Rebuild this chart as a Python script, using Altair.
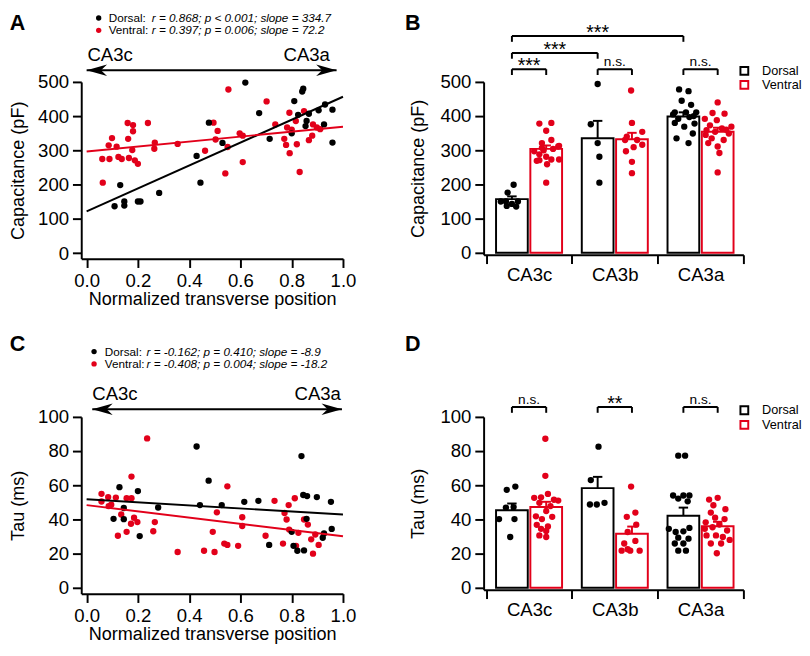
import altair as alt
import pandas as pd

FONT = "Liberation Sans"
BLACK = "#000000"
RED = "#e2001a"
GROUPS = ["Dorsal", "Ventral"]
CATEGORIES = ["CA3c", "CA3b", "CA3a"]
POS_ENDS = ["CA3c", "CA3a"]

# ---------------- Panel A: capacitance vs normalized transverse position ----------------
A_DORSAL_X = [0.619, 0.109, 0.131, 0.147, 0.147, 0.200, 0.210, 0.283, 0.429, 0.444, 0.477, 0.530, 0.673, 0.714,
              0.810, 0.800, 0.825, 0.841, 0.845, 0.867, 0.858, 0.854, 0.905, 0.930, 0.926, 0.959, 0.959]
A_DORSAL_Y = [498, 137, 199, 151, 139, 151, 151, 176, 284, 206, 381, 322, 409, 334,
              444, 350, 404, 472, 480, 407, 386, 371, 417, 434, 376, 419, 323]
A_VENTRAL_X = [0.063, 0.061, 0.089, 0.086, 0.099, 0.117, 0.124, 0.137, 0.160, 0.181, 0.181, 0.162, 0.178, 0.165,
               0.188, 0.200, 0.239, 0.266, 0.264, 0.355, 0.462, 0.495, 0.511, 0.503, 0.550, 0.541, 0.553, 0.597,
               0.609, 0.609, 0.702, 0.736, 0.771, 0.778, 0.791, 0.782, 0.800, 0.792, 0.820, 0.831, 0.816, 0.848,
               0.867, 0.883, 0.880, 0.898, 0.911]
A_VENTRAL_Y = [206, 275, 275, 315, 336, 311, 281, 275, 380, 374, 356, 334, 301, 278,
               271, 261, 380, 323, 305, 319, 299, 381, 357, 332, 310, 233, 478, 350,
               343, 266, 443, 376, 334, 316, 410, 367, 361, 292, 318, 237, 386, 415,
               330, 376, 343, 367, 362]
A_INTERCEPT = [122, 297]
A_SLOPE = [334.7, 72.2]
A_STATS = ["r = 0.868; p < 0.001; slope = 334.7", "r = 0.397; p = 0.006; slope = 72.2"]

# ---------------- Panel C: tau vs normalized transverse position ----------------
C_DORSAL_X = [0.128, 0.145, 0.105, 0.145, 0.200, 0.207, 0.279, 0.429, 0.442, 0.476, 0.527, 0.615, 0.670, 0.712,
              0.800, 0.807, 0.822, 0.838, 0.845, 0.860, 0.898, 0.858, 0.848, 0.926, 0.921, 0.953, 0.956]
C_DORSAL_Y = [58.9, 46.7, 40.4, 40.2, 56.6, 30.3, 47.0, 82.7, 48.4, 62.7, 48.4, 50.3, 50.9, 25.1,
              32.8, 24.6, 21.7, 77.1, 54.3, 53.7, 53.1, 40.4, 21.9, 31.8, 29.3, 50.3, 34.5]
C_VENTRAL_X = [0.058, 0.058, 0.084, 0.086, 0.114, 0.096, 0.122, 0.135, 0.156, 0.156, 0.175, 0.175, 0.173, 0.185,
               0.198, 0.236, 0.266, 0.260, 0.355, 0.458, 0.492, 0.499, 0.508, 0.537, 0.549, 0.549, 0.591, 0.607,
               0.607, 0.698, 0.733, 0.766, 0.772, 0.780, 0.788, 0.790, 0.812, 0.817, 0.826, 0.848, 0.863, 0.876,
               0.883, 0.892, 0.905]
C_VENTRAL_Y = [55.0, 50.5, 53.1, 47.8, 52.8, 48.6, 30.5, 42.9, 52.4, 32.8, 65.1, 52.4, 37.5, 41.0,
               38.5, 87.4, 38.5, 33.1, 21.0, 21.7, 32.8, 21.0, 44.2, 25.9, 25.1, 59.4, 24.6, 41.3,
               36.2, 30.5, 50.9, 25.9, 43.8, 40.0, 48.4, 34.1, 52.4, 24.6, 32.2, 40.0, 37.0, 28.4,
               20.0, 31.2, 25.1]
C_INTERCEPT = [51.8, 48.4]
C_SLOPE = [-8.9, -18.2]
C_STATS = ["r = -0.162; p = 0.410; slope = -8.9", "r = -0.408; p = 0.004; slope = -18.2"]

# ---------------- Panel B: capacitance by region ----------------
B_MEAN_D = [157, 335, 399]
B_SEM_D = [8, 51, 12]
B_MEAN_V = [304, 332, 354]
B_SEM_V = [10, 19, 12]
B_PTS_D = [[199, 176, 150, 150, 143, 150, 135, 137],
           [494, 376, 321, 281, 205],
           [478, 473, 445, 433, 411, 411, 411, 392, 397, 378, 380, 369, 349, 335, 321, 405, 400]]
B_JIT_D = [[0.02, -0.05, -0.13, -0.07, 0.0, 0.07, 0.05, -0.06],
           [0.0, -0.08, 0.0, 0.02, 0.02],
           [-0.05, 0.06, -0.02, 0.09, -0.1, 0.03, 0.15, -0.06, 0.07, 0.13, -0.1, 0.01, 0.11, -0.08, 0.06, -0.12, 0.12]]
B_PTS_V = [[378, 380, 357, 330, 321, 313, 311, 304, 297, 288, 281, 273, 273, 271, 269, 259, 205, 300, 307],
           [475, 380, 354, 340, 330, 330, 316, 309, 297, 266, 233],
           [440, 409, 407, 392, 388, 369, 373, 364, 359, 349, 354, 335, 330, 321, 311, 292, 235, 345, 360]]
B_JIT_V = [[-0.08, 0.06, 0.0, 0.06, -0.05, 0.15, 0.14, 0.08, -0.14, -0.08, 0.0, 0.06, 0.15, -0.08, -0.11, 0.01, 0.0, -0.03, -0.05],
           [-0.01, 0.0, 0.12, -0.06, -0.08, 0.06, 0.12, 0.02, -0.07, 0.0, 0.0],
           [0.0, -0.06, 0.08, -0.15, -0.01, 0.16, -0.09, 0.05, -0.13, 0.13, -0.03, -0.07, 0.07, -0.11, 0.0, 0.02, 0.0, -0.14, 0.1]]
B_BRACKETS = [(-0.2, 0.2, 537.2, "***"), (0.8, 1.2, 537.2, "n.s."), (1.8, 2.2, 537.2, "n.s."),
              (-0.2, 0.8, 584.9, "***"), (-0.2, 1.8, 634.4, "***")]

# ---------------- Panel D: tau by region ----------------
D_MEAN_D = [45.3, 58.3, 42.1]
D_SEM_D = [4.0, 6.6, 4.8]
D_MEAN_V = [47.2, 31.6, 36.0]
D_SEM_V = [3.1, 4.2, 2.6]
D_PTS_D = [[59.2, 57.3, 46.9, 47.2, 40.2, 40.2, 29.7],
           [82.6, 63.0, 48.7, 48.7, 49.7],
           [77.3, 77.3, 54.0, 54.0, 54.0, 52.2, 50.6, 34.5, 32.6, 33.0, 35.0, 29.3, 28.7, 25.9, 25.9, 21.7, 21.7]]
D_JIT_D = [[0.04, -0.06, -0.07, 0.02, -0.15, 0.03, -0.02],
           [0.01, -0.08, -0.09, -0.01, 0.08],
           [-0.06, 0.02, -0.12, 0.0, 0.07, -0.06, 0.05, -0.17, -0.09, 0.0, 0.07, -0.06, 0.06, -0.1, 0.0, -0.06, 0.03]]
D_PTS_V = [[87.2, 65.5, 54.9, 52.6, 52.9, 51.5, 51.0, 49.7, 47.8, 44.9, 41.8, 40.2, 41.5, 36.8, 35.9, 34.5, 33.2, 30.6, 29.7],
           [59.2, 44.0, 41.5, 36.9, 32.6, 27.4, 25.9, 21.7, 21.7, 21.7, 22.5],
           [51.6, 52.6, 48.3, 44.0, 40.2, 38.3, 41.0, 34.5, 35.4, 33.5, 30.6, 30.6, 29.7, 25.9, 25.9, 20.2, 46.0, 37.0, 28.0]]
D_JIT_V = [[-0.01, -0.01, 0.02, -0.14, -0.06, 0.09, 0.14, -0.08, 0.05, 0.0, -0.12, -0.05, 0.07, -0.11, 0.02, -0.06, 0.0, -0.08, 0.0],
           [-0.01, 0.04, -0.06, 0.05, -0.05, 0.04, -0.09, -0.12, -0.02, 0.09, -0.05],
           [-0.1, 0.0, -0.05, -0.08, 0.08, -0.14, -0.03, -0.15, -0.06, 0.11, -0.13, -0.02, 0.06, -0.08, 0.04, -0.01, 0.09, 0.02, 0.14]]
D_BRACKETS = [(-0.2, 0.2, 105.8, "n.s."), (0.8, 1.2, 105.8, "**"), (1.8, 2.2, 105.8, "n.s.")]

FIT_X = [0.0, 1.0]
GROUP_OFFSET = [-0.2, 0.2]
ARROW_L = "M0,0 L2.2,-0.62 L1.55,0 L2.2,0.62 Z"
ARROW_R = "M0,0 L-2.2,-0.62 L-1.55,0 L-2.2,0.62 Z"

color_scale = alt.Scale(domain=GROUPS, range=[BLACK, RED])
COL = alt.Color("g:N", scale=color_scale, legend=None)


def txt(df, **mk):
    base = dict(font=FONT, color=BLACK)
    base.update(mk)
    return alt.Chart(df).mark_text(**base)


def scatter_panel(letter, letter_xy, dx, dy, vx, vy, icpt, slope, stats, ydom, yticks, ytitle, height,
                  leg_y, leg_x, end_y, end_x, arrow_y, arrow_x):
    X = alt.X("x:Q", scale=alt.Scale(domain=[-0.021, 1.0], nice=False, zero=False),
              axis=alt.Axis(values=[0, 0.2, 0.4, 0.6, 0.8, 1.0], format=".1f",
                            title="Normalized transverse position", labelPadding=4,
                            titlePadding=0, labelFlush=False))
    Y = alt.Y("y:Q", scale=alt.Scale(domain=ydom, nice=False, zero=False),
              axis=alt.Axis(values=yticks, title=ytitle, labelPadding=4, titlePadding=10))
    pts = pd.DataFrame({"x": vx + dx, "y": vy + dy,
                        "g": ["Ventral"] * len(vx) + ["Dorsal"] * len(dx)})
    points = alt.Chart(pts).mark_circle(size=42, opacity=1).encode(X, Y, color=COL)
    fit = pd.DataFrame([{"g": g, "x": x, "y": i + s * x}
                        for g, i, s in zip(GROUPS, icpt, slope) for x in FIT_X])
    lines = alt.Chart(fit).mark_line(strokeWidth=2).encode(X, Y, color=COL)
    leg_d = pd.DataFrame({"x": [leg_x[0]] * 2, "y": leg_y, "g": GROUPS})
    leg_dots = alt.Chart(leg_d).mark_circle(size=30, opacity=1).encode(X, Y, color=COL)
    leg_n = pd.DataFrame({"x": [leg_x[1]] * 2, "y": leg_y, "t": [g + ":" for g in GROUPS]})
    leg_names = txt(leg_n, align="left", baseline="middle", fontSize=12).encode(X, Y, text="t:N")
    leg_s = pd.DataFrame({"x": [leg_x[2]] * 2, "y": leg_y, "t": stats})
    leg_stats = txt(leg_s, align="left", baseline="middle", fontSize=12, fontStyle="italic").encode(X, Y, text="t:N")
    end_l = txt(pd.DataFrame({"x": [end_x[0]], "y": [end_y], "t": [POS_ENDS[0]]}),
                align="left", baseline="middle", fontSize=19).encode(X, Y, text="t:N")
    end_r = txt(pd.DataFrame({"x": [end_x[1]], "y": [end_y], "t": [POS_ENDS[1]]}),
                align="right", baseline="middle", fontSize=19).encode(X, Y, text="t:N")
    arr = pd.DataFrame({"x": arrow_x, "y": [arrow_y] * 2, "d": ["L", "R"]})
    arrow_line = alt.Chart(arr).mark_line(strokeWidth=2, color=BLACK).encode(X, Y)
    arrow_heads = alt.Chart(arr).mark_point(filled=True, size=361, strokeWidth=0, opacity=1, color=BLACK).encode(
        X, Y, shape=alt.Shape("d:N", scale=alt.Scale(domain=["L", "R"], range=[ARROW_L, ARROW_R]), legend=None))
    let = txt(pd.DataFrame({"x": [letter_xy[0]], "y": [letter_xy[1]], "t": [letter]}),
              align="left", baseline="middle", fontSize=22, fontWeight="bold").encode(X, Y, text="t:N")
    return alt.layer(points, lines, leg_dots, leg_names, leg_stats, end_l, end_r, arrow_line, arrow_heads, let
                     ).properties(width=268, height=height)


LABEL_EXPR = "".join(f"datum.value == {i} ? '{c}' : " for i, c in enumerate(CATEGORIES)) + "''"


def bar_panel(letter, letter_xy, mean_d, sem_d, mean_v, sem_v, pts_d, jit_d, pts_v, jit_v,
              ydom, yticks, ytitle, height, brackets, drop, leg_y, leg_x):
    X = alt.X("x:Q", scale=alt.Scale(domain=[-0.53, 2.5], nice=False, zero=False),
              axis=alt.Axis(values=[-0.5, 0, 0.5, 1, 1.5, 2, 2.5], labelExpr=LABEL_EXPR, title=None,
                            tickOpacity={"condition": {"test": "datum.value % 1 != 0", "value": 1}, "value": 0},
                            labelFlush=False, labelOverlap=False, labelPadding=2))
    Y = alt.Y("y:Q", scale=alt.Scale(domain=ydom, nice=False, zero=False),
              axis=alt.Axis(values=yticks, title=ytitle, labelPadding=4, titlePadding=13))
    bars, errs, caps, dots = [], [], [], []
    for g, off, means, sems, pts, jits in [("Dorsal", GROUP_OFFSET[0], mean_d, sem_d, pts_d, jit_d),
                                           ("Ventral", GROUP_OFFSET[1], mean_v, sem_v, pts_v, jit_v)]:
        for ci in range(len(CATEGORIES)):
            c = ci + off
            bars.append({"g": g, "x": c - 0.185, "x2": c + 0.185, "y": means[ci], "y2": 0})
            errs.append({"g": g, "x": c, "y": means[ci], "y2": means[ci] + sems[ci]})
            caps.append({"g": g, "x": c - 0.055, "x2": c + 0.055, "y": means[ci] + sems[ci]})
            for v, j in zip(pts[ci], jits[ci]):
                dots.append({"g": g, "x": c + j, "y": v})
    stroke = alt.Stroke("g:N", scale=color_scale, legend=None)
    bar_l = alt.Chart(pd.DataFrame(bars)).mark_bar(fill="white", strokeWidth=2).encode(
        X, Y, x2="x2:Q", y2="y2:Q", stroke=stroke)
    dot_l = alt.Chart(pd.DataFrame(dots)).mark_circle(size=42, opacity=1).encode(X, Y, color=COL)
    err_l = alt.Chart(pd.DataFrame(errs)).mark_rule(strokeWidth=2).encode(X, Y, y2="y2:Q", color=COL)
    cap_l = alt.Chart(pd.DataFrame(caps)).mark_rule(strokeWidth=2).encode(X, Y, x2="x2:Q", color=COL)
    h = pd.DataFrame([{"x": a, "x2": b, "y": y} for a, b, y, _ in brackets])
    v = pd.DataFrame([{"x": xx, "y": y, "y2": y - drop} for a, b, y, _ in brackets for xx in (a, b)])
    br_h = alt.Chart(h).mark_rule(strokeWidth=2, color=BLACK).encode(X, Y, x2="x2:Q")
    br_v = alt.Chart(v).mark_rule(strokeWidth=2, color=BLACK).encode(X, Y, y2="y2:Q")
    ns = pd.DataFrame([{"x": (a + b) / 2, "y": y, "t": t} for a, b, y, t in brackets if t == "n.s."])
    st = pd.DataFrame([{"x": (a + b) / 2, "y": y, "t": t} for a, b, y, t in brackets if t != "n.s."])
    ns_l = txt(ns, align="center", baseline="alphabetic", fontSize=14, dy=-3).encode(X, Y, text="t:N")
    st_l = txt(st, align="center", baseline="alphabetic", fontSize=20, dy=3).encode(X, Y, text="t:N")
    lg = pd.DataFrame({"x": [leg_x[0]] * 2, "y": leg_y, "g": GROUPS})
    lg_sq = alt.Chart(lg).mark_point(shape="square", filled=False, size=64, strokeWidth=2, opacity=1).encode(
        X, Y, color=COL)
    lt = pd.DataFrame({"x": [leg_x[1]] * 2, "y": leg_y, "t": GROUPS})
    lg_t = txt(lt, align="left", baseline="middle", fontSize=13).encode(X, Y, text="t:N")
    let = txt(pd.DataFrame({"x": [letter_xy[0]], "y": [letter_xy[1]], "t": [letter]}),
              align="left", baseline="middle", fontSize=22, fontWeight="bold").encode(X, Y, text="t:N")
    return alt.layer(bar_l, dot_l, err_l, cap_l, br_h, br_v, ns_l, st_l, lg_sq, lg_t, let
                     ).properties(width=266, height=height)


A = scatter_panel("A", (-0.3, 671.0), A_DORSAL_X, A_DORSAL_Y, A_VENTRAL_X, A_VENTRAL_Y, A_INTERCEPT, A_SLOPE,
                  A_STATS, [-16, 500], [0, 100, 200, 300, 400, 500], "Capacitance (pF)", 181,
                  [686.7, 650.5], (0.047, 0.086, 0.254), 577.0, (0.003, 0.949), 534.2, [0.0, 0.975])
C = scatter_panel("C", (-0.3, 142.6), C_DORSAL_X, C_DORSAL_Y, C_VENTRAL_X, C_VENTRAL_Y, C_INTERCEPT, C_SLOPE,
                  C_STATS, [-3.4, 100], [0, 20, 40, 60, 80, 100], "Tau (ms)", 181,
                  [138.2, 131.0], (0.029, 0.071, 0.234), 113.4, (0.022, 0.992), 104.5, [0.022, 0.996])
B = bar_panel("B", (-1.447, 671.5), B_MEAN_D, B_SEM_D, B_MEAN_V, B_SEM_V, B_PTS_D, B_JIT_D, B_PTS_V, B_JIT_V,
              [-6, 500], [0, 100, 200, 300, 400, 500], "Capacitance (pF)", 177, B_BRACKETS, 17,
              [532.3, 491.4], (2.511, 2.717))
D = bar_panel("D", (-1.447, 142.6), D_MEAN_D, D_SEM_D, D_MEAN_V, D_SEM_V, D_PTS_D, D_JIT_D, D_PTS_V, D_JIT_V,
              [-1.2, 100], [0, 20, 40, 60, 80, 100], "Tau (ms)", 177, D_BRACKETS, 3.4,
              [103.9, 95.3], (2.511, 2.717))

chart = alt.vconcat(
    alt.hconcat(A, B, spacing=49),
    alt.hconcat(C, D, spacing=49),
    spacing=25,
    padding={"left": 1, "top": -4, "right": 0, "bottom": 0},
).configure(font=FONT).configure_view(stroke=None).configure_axis(
    grid=False, domainColor=BLACK, domainWidth=2, tickColor=BLACK, tickWidth=2, tickSize=9,
    labelFont=FONT, labelFontSize=19, labelColor=BLACK,
    titleFont=FONT, titleFontSize=18.5, titleFontWeight="normal", titleColor=BLACK,
)

chart.save("out.html", embed_options={"renderer": "svg", "actions": False})
